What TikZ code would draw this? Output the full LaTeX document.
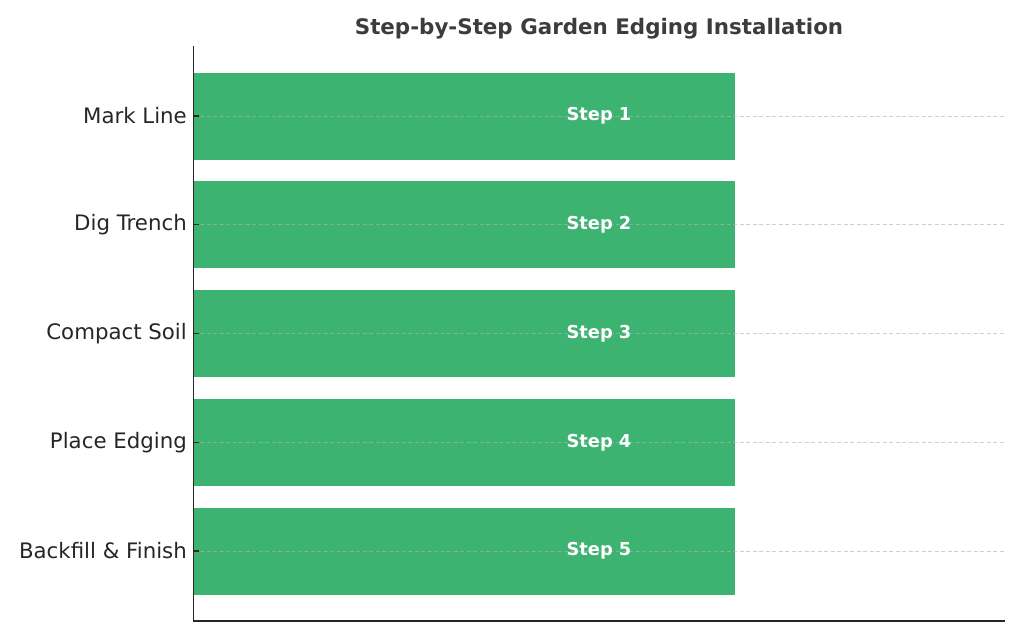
\documentclass[tikz,border=0pt]{standalone}
\usepackage{fontspec}
\setmainfont{DejaVu Sans}
\usepackage{tikz}
\definecolor{barGreen}{RGB}{60,179,113}
\definecolor{axisGray}{RGB}{38,38,38}
\definecolor{gridGray}{RGB}{176,176,176}
\tikzset{
    bar/.style={fill=barGreen, draw=none, minimum width=541pt, minimum height=87pt, inner sep=0pt},
    gridline/.style={gridGray, draw opacity=.6, line width=.8pt, dash pattern=on 4pt off 2.5pt},
    axisline/.style={axisGray, line width=1.4pt},
    steplabel/.style={text=white, font=\fontsize{17.8}{21}\selectfont\bfseries},
    ticklabel/.style={anchor=east, text=axisGray, font=\fontsize{21.3}{25}\selectfont, inner sep=0pt}
}
\newcommand{\stepRow}[3]{
    \node[bar](bar#1) at (464.5, #2){};
    \coordinate (tick#1) at (193.5, #2);
    \coordinate (grid#1) at (1005, #2);
    \draw[gridline](tick#1)--(grid#1);
    \draw[axisline](tick#1)--++(5.5, 0);
    \node[ticklabel](name#1) at (187, #2){#3};
    \node[steplabel](text#1) at (599, #2){Step #1};
}

\begin{document}
\begin{tikzpicture}[x=1pt, y=-1pt]
    \useasboundingbox (0, 0) rectangle (1024, 640);
    \node[text=axisGray!90, font=\fontsize{21.4}{25}\selectfont\bfseries](title) at (599, 29){Step-by-Step Garden Edging Installation};
    \stepRow{1}{116}{Mark Line}
    \stepRow{2}{224.75}{Dig Trench}
    \stepRow{3}{333.5}{Compact Soil}
    \stepRow{4}{442.25}{Place Edging}
    \stepRow{5}{551}{Backfill \& Finish}
    \draw[axisline](193.5, 46)coordinate(top)--(193.5, 621)coordinate(origin)--(1005, 621)coordinate(right);
\end{tikzpicture}
\end{document}
